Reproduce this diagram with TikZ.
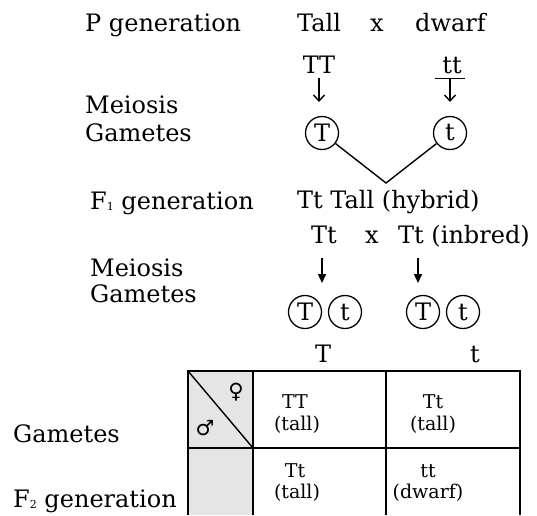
\documentclass[tikz,border=0pt]{standalone}
\usepackage{fontspec}
\usetikzlibrary{arrows.meta}
\setmainfont{DejaVu Serif}
\newfontfamily\symbolfont{DejaVu Sans}
\newcommand\bigtext{\fontsize{24}{28}\selectfont}
\newcommand\celltext{\fontsize{19}{19}\selectfont}
\newcommand\subidx[1]{\lower1.5pt\hbox{\fontsize{11}{11}\selectfont #1}}
\begin{document}
\begin{tikzpicture}[x=1pt,y=-1pt,
  lbl/.style={font=\bigtext, inner sep=0pt, anchor=base west},
  txt/.style={font=\bigtext, inner sep=0pt, anchor=base},
  gam/.style={circle, draw, line width=1.3pt, minimum size=33pt, inner sep=0pt, font=\bigtext},
  cell/.style={font=\celltext, inner sep=0pt},
  thick line/.style={line width=1.4pt},
  barb/.style={thick line, -{Straight Barb[length=6pt,width=11pt,line width=1.4pt]}},
  tee barb/.style={thick line, {Bar[width=30pt,line width=1.4pt]}-{Straight Barb[length=6pt,width=11pt,line width=1.4pt]}},
  solid head/.style={thick line, -{Triangle[length=9pt,width=8pt]}}
]
\useasboundingbox (0,0) rectangle (537,515);

% ---- parental generation ----
\node[lbl] (pgen) at (85,31) {P generation};
\node[lbl] (tall) at (297,31) {Tall};
\node[txt] (cross1) at (377,31) {x};
\node[lbl] (dwarf) at (415,31) {dwarf};

\node[txt] (TT) at (319,73) {TT};
\node[txt] (tt) at (452,73) {tt};
\coordinate (TTa) at (319,78);
\coordinate (TTb) at (319,102);
\coordinate (tta) at (450,78);
\coordinate (ttb) at (450,102);
\draw[barb] (TTa) -- (TTb);
\draw[tee barb] (tta) -- (ttb);

\node[lbl] (meio1) at (85,113) {Meiosis};
\node[lbl] (game1) at (85,141) {Gametes};

\node[gam] (g1) at (322,133) {T};
\node[gam] (g2) at (450,133) {t};
\coordinate (vtx) at (386,183);
\draw[thick line] (g1) -- (vtx) -- (g2);

% ---- first filial generation ----
\node[lbl] (f1gen) at (90,209) {F\subidx{1} generation};
\node[lbl] (hybrid) at (297,208) {Tt Tall (hybrid)};

\node[lbl] (tt1) at (311,243) {Tt};
\node[txt] (cross2) at (372,243) {x};
\node[lbl] (tt2) at (398,243) {Tt (inbred)};

\coordinate (a1) at (322,258);
\coordinate (b1) at (322,283);
\coordinate (a2) at (418,258);
\coordinate (b2) at (418,283);
\draw[solid head] (a1) -- (b1);
\draw[solid head] (a2) -- (b2);

\node[lbl] (meio2) at (90,276) {Meiosis};
\node[lbl] (game2) at (90,302) {Gametes};

\node[gam] (h1) at (305,312) {T};
\node[gam] (h2) at (345,312) {t};
\node[gam] (h3) at (423,312) {T};
\node[gam] (h4) at (463,312) {t};

% ---- Punnett square ----
\node[txt] (colT) at (323,362) {T};
\node[txt] (colt) at (475,362) {t};

\fill[gray!20] (188,371) rectangle (253,515);
\draw[thick line] (188,515) -- (188,371) -- (520,371) -- (520,515);
\draw[thick line] (253,371) -- (253,515);
\draw[thick line] (386,371) -- (386,515);
\draw[thick line] (188,448) -- (520,448);
\draw[thick line] (188,371) -- (253,448);

\node[font=\symbolfont\fontsize{21}{21}\selectfont, inner sep=0pt] (fem) at (236,392) {♀};
\node[font=\symbolfont\fontsize{21}{21}\selectfont, inner sep=0pt] (mal) at (205,428) {♂};

\node[cell] (c11a) at (295,402) {TT};
\node[cell] (c11b) at (297,425) {(tall)};
\node[cell] (c12a) at (433,402) {Tt};
\node[cell] (c12b) at (433,425) {(tall)};
\node[cell] (c21a) at (295,471) {Tt};
\node[cell] (c21b) at (297,493) {(tall)};
\node[cell] (c22a) at (428,471) {tt};
\node[cell] (c22b) at (428,493) {(dwarf)};

\node[lbl] (game3) at (13,442) {Gametes};
\node[lbl] (f2gen) at (13,507) {F\subidx{2} generation};
\end{tikzpicture}
\end{document}
